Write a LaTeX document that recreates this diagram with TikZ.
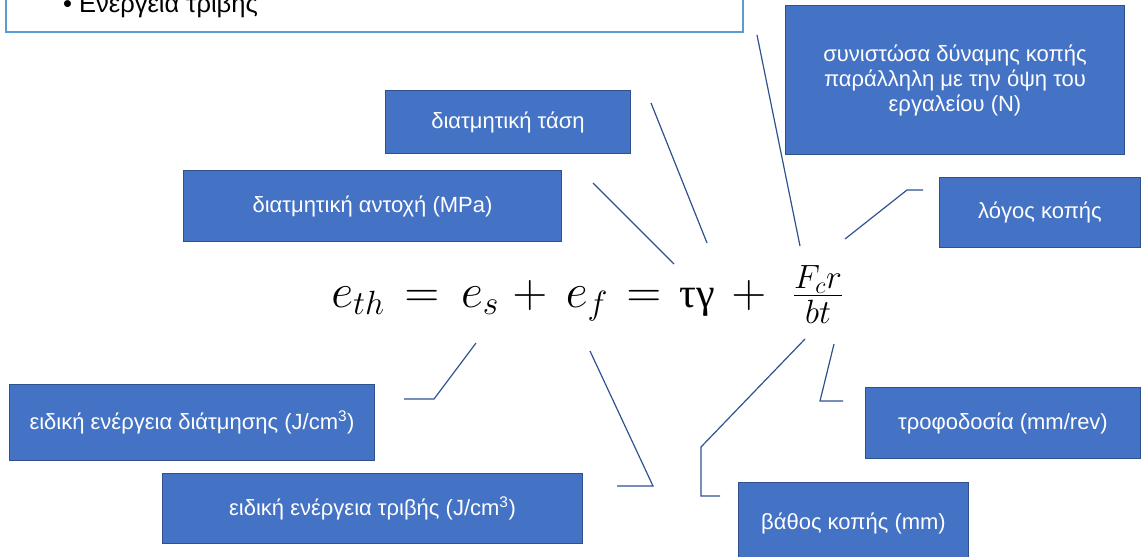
\RequirePackage{fix-cm}
\documentclass[tikz,border=0pt]{standalone}
\usepackage{fontspec}
\setmainfont{Liberation Sans}
\newfontfamily\greekserif{Liberation Serif}
\definecolor{boxfill}{HTML}{4472C4}
\definecolor{boxline}{HTML}{2F528F}
\definecolor{topline}{HTML}{5B9BD5}
\tikzset{
  lbox/.style={draw=boxline, line width=1pt, fill=boxfill, text=white, inner sep=0pt, anchor=north west, align=center, font=\fontsize{22}{25}\selectfont},
  conn/.style={draw=boxline, line width=1.2pt},
  eqpart/.style={inner sep=0pt, anchor=base, font=\fontsize{48}{52}\selectfont}
}
\begin{document}
\begin{tikzpicture}[x=1pt,y=-1pt]
\useasboundingbox (0,0) rectangle (1141,557);
% top text box
\node[draw=topline, line width=1.5pt, fill=white, inner sep=0pt, anchor=north west, minimum width=737pt, minimum height=45pt] (topbox) at (5,-14) {};
\node[anchor=base west, inner sep=0pt, font=\fontsize{25.5}{28}\selectfont] (toptext) at (63,12) {• Ενέργεια τριβής};
% boxes
\node[lbox, minimum width=245pt, minimum height=63pt] (tasi) at (385,90) {διατμητική τάση};
\node[lbox, minimum width=378pt, minimum height=71pt] (antoxi) at (183,170) {διατμητική αντοχή (MPa)};
\node[lbox, minimum width=339pt, minimum height=149pt] (syn) at (785,5) {συνιστώσα δύναμης κοπής\\παράλληλη με την όψη του\\εργαλείου (N)};
\node[lbox, minimum width=201pt, minimum height=70pt] (logos) at (939,177) {λόγος κοπής};
\node[lbox, minimum width=365pt, minimum height=76pt] (diat) at (9,384) {ειδική ενέργεια διάτμησης (J/cm\textsuperscript{3})};
\node[lbox, minimum width=420pt, minimum height=70pt] (trivi) at (162,473) {ειδική ενέργεια τριβής (J/cm\textsuperscript{3})};
\node[lbox, minimum width=275pt, minimum height=71pt] (trof) at (865,387) {τροφοδοσία (mm/rev)};
\node[lbox, minimum width=230pt, minimum height=82pt] (vathos) at (738,482) {βάθος κοπής (mm)};
% equation
\node[eqpart] (eth) at (358,307) {$e_{th}$};
\node[eqpart] (eq1) at (422,307) {$=$};
\node[eqpart] (es) at (480,307) {$e_s$};
\node[eqpart] (pl1) at (530,307) {$+$};
\node[eqpart] (ef) at (587,307) {$e_f$};
\node[eqpart] (eq2) at (644,307) {$=$};
\node[eqpart, font=\fontsize{42}{46}\selectfont] (tg) at (697,307) {\greekserif τγ};
\node[eqpart] (pl2) at (749,307) {$+$};
\node[eqpart] (frac) at (818,307) {$\frac{F_c r}{bt}$};
% connector end points
\coordinate (a1) at (593,183); \coordinate (a2) at (674,264);
\coordinate (t1) at (651,103); \coordinate (t2) at (707,243);
\coordinate (s1) at (757,35); \coordinate (s2) at (800,246);
\coordinate (l1) at (923,190); \coordinate (l2) at (907,190); \coordinate (l3) at (845,239);
\coordinate (d1) at (476,343); \coordinate (d2) at (434,399); \coordinate (d3) at (404,399);
\coordinate (r1) at (590,351); \coordinate (r2) at (653,486); \coordinate (r3) at (617,486);
\coordinate (v1) at (805,339); \coordinate (v2) at (701,447); \coordinate (v3) at (701,496); \coordinate (v4) at (720,496);
\coordinate (f1) at (834,344); \coordinate (f2) at (820,401); \coordinate (f3) at (843,401);
\draw[conn] (a1) -- (a2);
\draw[conn] (t1) -- (t2);
\draw[conn] (s1) -- (s2);
\draw[conn] (l1) -- (l2) -- (l3);
\draw[conn] (d1) -- (d2) -- (d3);
\draw[conn] (r1) -- (r2) -- (r3);
\draw[conn] (v1) -- (v2) -- (v3) -- (v4);
\draw[conn] (f1) -- (f2) -- (f3);
\end{tikzpicture}
\end{document}
